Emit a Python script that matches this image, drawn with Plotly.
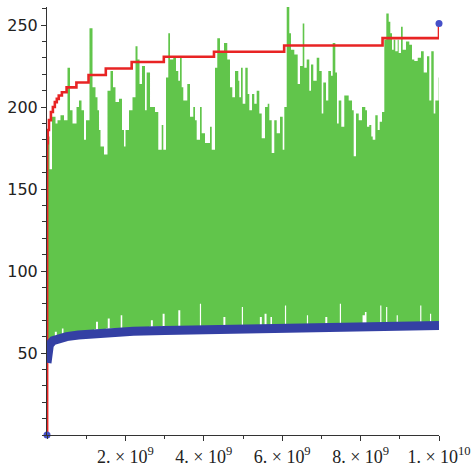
import plotly.graph_objects as go

# ---- data (x in units of 1e9) ----
upper_x = [0.0, 0.064, 0.128, 0.217, 0.268, 0.344, 0.434, 0.523, 0.587, 0.651, 0.753, 0.816, 0.880, 0.944, 0.995,
           1.084, 1.161, 1.237, 1.288, 1.327, 1.365, 1.454, 1.543, 1.620, 1.684, 1.747, 1.837, 1.913, 1.964, 2.003,
           2.092, 2.181, 2.258, 2.309, 2.360, 2.423, 2.500, 2.543, 2.628, 2.755, 2.839, 2.926, 2.967, 3.036, 3.094,
           3.138, 3.222, 3.291, 3.349, 3.393, 3.436, 3.477, 3.579, 3.648, 3.732, 3.776, 3.819, 3.903, 3.946, 4.031,
           4.115, 4.158, 4.202, 4.286, 4.344, 4.413, 4.515, 4.599, 4.668, 4.727, 4.796, 4.880, 4.906, 4.949, 4.992,
           5.059, 5.120, 5.161, 5.230, 5.288, 5.349, 5.416, 5.477, 5.561, 5.630, 5.671, 5.732, 5.798, 5.860, 5.944,
           6.013, 6.054, 6.115, 6.181, 6.224, 6.309, 6.395, 6.454, 6.523, 6.564, 6.625, 6.691, 6.735, 6.793, 6.880,
           6.946, 7.008, 7.048, 7.117, 7.176, 7.245, 7.288, 7.355, 7.398, 7.441, 7.508, 7.584, 7.696, 7.781, 7.824,
           7.883, 7.952, 8.036, 8.120, 8.163, 8.222, 8.273, 8.309, 8.375, 8.436, 8.487, 8.546, 8.605, 8.656, 8.717,
           8.758, 8.801, 8.844, 8.885, 8.946, 8.972, 9.031, 9.074, 9.158, 9.242, 9.311, 9.370, 9.457, 9.541, 9.610,
           9.694, 9.753, 9.803, 9.865, 9.906, 9.992, 10.0]
upper_y = [182, 162, 194, 190, 192, 195, 192, 224, 198, 190, 200, 204, 198, 180, 192,
           248, 212, 206, 198, 186, 176, 171, 210, 222, 212, 203, 205, 186, 176, 186,
           198, 206, 237, 229, 214, 225, 198, 221, 200, 197, 174, 189, 174, 218, 245,
           229, 230, 222, 216, 230, 212, 204, 214, 194, 200, 192, 180, 200, 184, 178,
           178, 188, 174, 224, 242, 233, 239, 229, 212, 206, 222, 216, 206, 224, 202,
           224, 208, 198, 208, 202, 210, 196, 181, 200, 202, 192, 172, 192, 184, 194,
           174, 200, 261, 245, 235, 232, 214, 225, 251, 224, 229, 210, 226, 216, 230,
           222, 196, 215, 204, 222, 219, 239, 221, 190, 204, 188, 207, 204, 198, 170,
           196, 192, 200, 198, 188, 189, 182, 180, 195, 186, 191, 197, 241, 257, 252,
           245, 235, 241, 234, 241, 233, 249, 235, 240, 238, 229, 228, 230, 234, 221,
           231, 204, 234, 196, 204, 218, 218]

lower_x = [0.0, 0.05, 0.15, 0.2, 0.25, 0.35, 0.38, 0.42, 0.6, 0.8, 1.0, 1.2, 1.25, 1.3, 1.5, 1.55, 1.6, 1.8,
           1.88, 1.92, 2.3, 2.6, 2.65, 2.7, 2.9, 2.95, 3.0, 3.3, 3.35, 3.4, 3.8, 3.9, 3.93, 4.3, 4.5, 4.55, 4.6,
           4.97, 5.0, 5.43, 5.48, 5.55, 5.6, 5.7, 5.74, 6.07, 6.1, 6.63, 6.66, 7.1, 7.15, 7.47, 7.5, 8.05, 8.11,
           8.15, 8.5, 8.53, 8.65, 8.68, 8.92, 8.95, 9.52, 9.55, 9.77, 9.8, 10.0]
lower_y = [48, 54, 58, 63, 59, 61, 65, 61, 62, 63, 63.5, 64.5, 69, 64.5, 65, 71, 65, 65,
           73, 65, 65.5, 66, 70, 66, 66.5, 74, 66.5, 66.5, 76, 66.5, 66.5, 80, 66.5, 66.5, 72, 66.5, 66.5,
           78, 66.5, 72, 67, 74, 67, 72, 67, 79, 67, 73, 67, 72, 67, 80, 67, 73, 75,
           67, 79, 68, 78, 68, 73, 68, 79, 68, 74, 68, 68]

blue_x = [0, 0.005, 0.02, 0.06, 0.15, 0.3, 0.5, 0.8, 1.2, 1.7, 2.2, 3.0, 4.0, 6.0, 6.1, 8.55, 8.65, 10]
blue_y = [44, 48, 52, 55, 57.5, 59, 60, 61, 62, 62.8, 63.3, 63.8, 64.2, 64.5, 65.5, 65.8, 66.7, 66.8]

red_x = [0, 0.003, 0.02, 0.05, 0.1, 0.15, 0.2, 0.25, 0.3, 0.38, 0.5, 0.75, 1.06, 1.5, 2.16, 2.98, 4.26,
         6.05, 8.56, 10]
red_y = [0, 178, 186, 192, 197, 200, 203, 205, 207, 209, 212, 215, 219.5, 223.5, 227.5, 230.7, 233.7,
         237.5, 242, 251]

end_x = [0, 10]
end_y = [0, 251]

tick_vals = [2, 4, 6, 8, 10]
tick_text = ["2. × 10<sup>9</sup>", "4. × 10<sup>9</sup>", "6. × 10<sup>9</sup>",
             "8. × 10<sup>9</sup>", "1. × 10<sup>10</sup>"]

E = 1e9
GREEN = "rgb(97,197,75)"
RED = "rgb(232,36,36)"
BLUE = "rgb(52,64,164)"

fig = go.Figure()
fig.add_trace(go.Scatter(x=[v * E for v in lower_x], y=lower_y, mode="lines",
                         line=dict(width=0, shape="hv"), hoverinfo="skip", showlegend=False))
fig.add_trace(go.Scatter(x=[v * E for v in upper_x], y=upper_y, mode="lines",
                         line=dict(width=0, shape="hv"), fill="tonexty", fillcolor=GREEN,
                         hoverinfo="skip", showlegend=False))
fig.add_trace(go.Scatter(x=[v * E for v in red_x], y=red_y, mode="lines",
                         line=dict(width=2.6, color=RED, shape="hv"), showlegend=False))
fig.add_trace(go.Scatter(x=[v * E for v in blue_x], y=blue_y, mode="lines",
                         line=dict(width=9, color=BLUE), showlegend=False))
fig.add_trace(go.Scatter(x=[v * E for v in end_x], y=end_y, mode="markers",
                         marker=dict(size=7, color="rgb(70,80,200)"), cliponaxis=False, showlegend=False))

axis_col = "#333"
fig.update_layout(
    width=475, height=467,
    margin=dict(l=47, r=36, t=7, b=32),
    paper_bgcolor="white", plot_bgcolor="white",
    xaxis=dict(range=[0, 1e10], showgrid=False, zeroline=False, showline=True, linecolor=axis_col,
               linewidth=1, tickmode="array", tickvals=[v * E for v in tick_vals], ticktext=tick_text,
               ticks="outside", ticklen=5, tickcolor=axis_col, automargin=False,
               tickfont=dict(family="Liberation Serif", size=18, color="#222"),
               minor=dict(tickmode="linear", tick0=0, dtick=1e9, ticks="outside", ticklen=3,
                          tickcolor=axis_col)),
    yaxis=dict(range=[0, 261], showgrid=False, zeroline=False, showline=True, linecolor=axis_col,
               linewidth=1, tickmode="array", tickvals=[50, 100, 150, 200, 250],
               ticks="outside", ticklen=5, tickcolor=axis_col, automargin=False,
               tickfont=dict(family="DejaVu Sans", size=16, color="#222"),
               minor=dict(tickmode="linear", tick0=0, dtick=10, ticks="outside", ticklen=4,
                          tickcolor=axis_col)),
)

fig.write_html("out.html", config={"displayModeBar": False},
               post_script="document.body.style.margin='0';document.body.style.overflow='hidden';")
